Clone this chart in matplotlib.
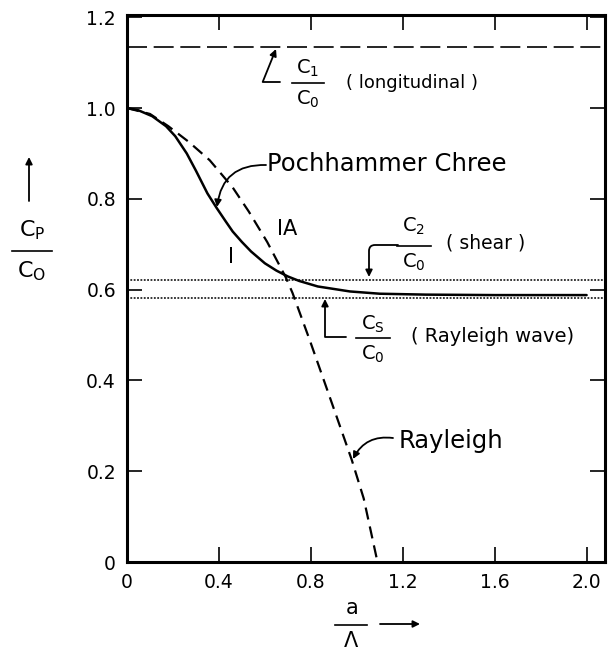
import matplotlib
matplotlib.use("Agg")
import matplotlib.pyplot as plt
from matplotlib.lines import Line2D
from matplotlib.patches import FancyArrowPatch

# Phase velocity ratio vs. radius/wavelength for a longitudinal wave in a rod
pc_x = [0.0, 0.05, 0.11, 0.17, 0.21, 0.26, 0.30, 0.35, 0.39, 0.43, 0.46, 0.50,
        0.54, 0.60, 0.65, 0.70, 0.75, 0.83, 0.97, 1.1, 1.3, 1.6, 2.0]
pc_y = [1.0, 0.995, 0.982, 0.960, 0.938, 0.900, 0.862, 0.812, 0.780, 0.750, 0.728, 0.705,
        0.684, 0.658, 0.642, 0.629, 0.619, 0.607, 0.596, 0.591, 0.589, 0.588, 0.588]

ray_x = [0.0, 0.1, 0.18, 0.27, 0.36, 0.46, 0.53, 0.61, 0.69, 0.72, 0.795,
         0.852, 0.913, 0.978, 1.03, 1.09]
ray_y = [1.0, 0.987, 0.96, 0.925, 0.885, 0.825, 0.772, 0.705, 0.628, 0.593, 0.489,
         0.407, 0.319, 0.225, 0.14, 0.0]

c1_c0 = 1.135   # longitudinal
c2_c0 = 0.622   # shear
cs_c0 = 0.582   # Rayleigh wave

x_ticks = [0, 0.4, 0.8, 1.2, 1.6, 2.0]
x_labels = ["0", "0.4", "0.8", "1.2", "1.6", "2.0"]
y_ticks = [0, 0.2, 0.4, 0.6, 0.8, 1.0, 1.2]
y_labels = ["0", "0.2", "0.4", "0.6", "0.8", "1.0", "1.2"]

W, H = 609, 652
fig = plt.figure(figsize=(W / 100, H / 100), dpi=100)
ax = fig.add_axes([127 / W, 1 - 562 / H, 478 / W, 547 / H])


def px(x, y):
    return (x / W, 1 - y / H)


ax.plot(pc_x, pc_y, color="black", lw=1.8, solid_capstyle="round",
        solid_joinstyle="round")
ax.plot(ray_x, ray_y, color="black", lw=1.6, dashes=(5.5, 3.2))
ax.axhline(c1_c0, color="black", lw=1.2, dashes=(12, 4))
ax.axhline(c2_c0, color="black", lw=1.1, dashes=(1.2, 1.0))
ax.axhline(cs_c0, color="black", lw=1.1, dashes=(1.2, 1.0))

ax.set_xlim(0, 2.08)
ax.set_ylim(0, 1.205)
ax.set_xticks(x_ticks)
ax.set_xticklabels(x_labels)
ax.set_yticks(y_ticks)
ax.set_yticklabels(y_labels)
ax.tick_params(direction="in", top=True, right=True, length=11, width=1.2,
               labelsize=13.5, pad=8)
for s in ax.spines.values():
    s.set_linewidth(2.2)

txt = dict(color="black", ha="center", va="center", transform=fig.transFigure)
arrow_kw = dict(arrowstyle="-|>", color="black", lw=1.3, mutation_scale=10,
                shrinkA=0, shrinkB=0)


def frac(xc, y_top, y_bot, y_line, top, bot, half, size=14):
    fig.text(*px(xc, y_top), top, fontsize=size, **txt)
    fig.text(*px(xc, y_bot), bot, fontsize=size, **txt)
    fig.add_artist(Line2D([px(xc - half, 0)[0], px(xc + half, 0)[0]],
                          [px(0, y_line)[1]] * 2, color="black", lw=1.2,
                          transform=fig.transFigure))


def arrow(start, end, style):
    fig.add_artist(FancyArrowPatch(
        px(*start), px(*end), transform=fig.transFigure,
        connectionstyle=style, **arrow_kw))


# longitudinal
frac(308, 68, 99, 83, r"$\mathrm{C_1}$", r"$\mathrm{C_0}$", 16)
fig.text(*px(412, 83), "( longitudinal )", fontsize=13, **txt)
arrow((280, 82), (276, 49), "angle,angleA=0,angleB=68,rad=0")

# shear
frac(414, 226, 262, 246, r"$\mathrm{C_2}$", r"$\mathrm{C_0}$", 17)
fig.text(*px(486, 243), "( shear )", fontsize=13.5, **txt)
arrow((398, 245), (369, 277), "angle,angleA=0,angleB=90,rad=6")

# Rayleigh wave
frac(373, 324, 354, 338, r"$\mathrm{C_S}$", r"$\mathrm{C_0}$", 17)
fig.text(*px(493, 337), "( Rayleigh wave)", fontsize=14, **txt)
arrow((346, 337), (325, 299), "angle,angleA=0,angleB=90,rad=0")

# curve names
fig.text(*px(387, 164), "Pochhammer Chree", fontsize=17.5, **txt)
arrow((266, 165), (217, 207), "arc3,rad=0.45")
fig.text(*px(451, 441), "Rayleigh", fontsize=17.5, **txt)
arrow((393, 438), (353, 459), "arc3,rad=0.35")
fig.text(*px(287, 229), "IA", fontsize=15, **txt)
fig.text(*px(231, 257), "I", fontsize=15, **txt)

# axis labels
arrow((29, 201), (29, 157), "arc3,rad=0")
frac(32, 230, 271, 251, r"$\mathrm{C_P}$", r"$\mathrm{C_O}$", 20, size=16)
frac(351, 608, 641, 625, r"$\mathrm{a}$", r"$\Lambda$", 16, size=15)
arrow((380, 624), (420, 624), "arc3,rad=0")

fig.savefig("out.png", dpi=100)
